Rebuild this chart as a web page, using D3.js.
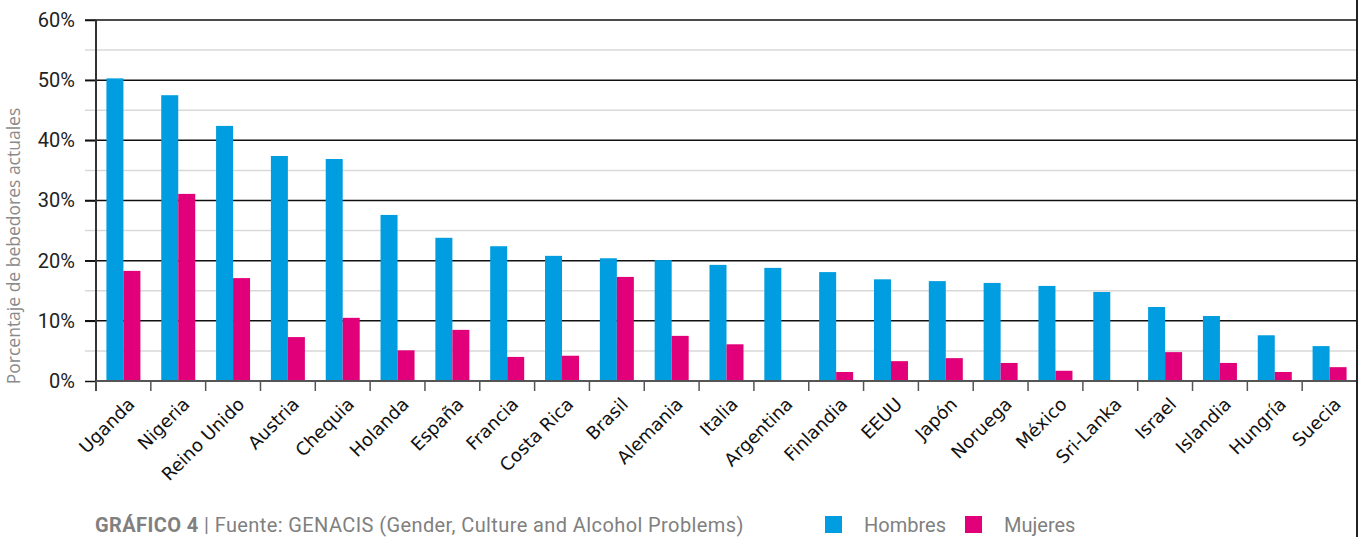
<!DOCTYPE html>
<html>
<head>
<meta charset="utf-8">
<script src="https://cdn.jsdelivr.net/npm/d3@7"></script>
<style>
body{margin:0;background:#fff}
</style>
</head>
<body>
<svg id="chart" width="1363" height="537"></svg>
<script>
var countries = ["Uganda","Nigeria","Reino Unido","Austria","Chequia","Holanda","España","Francia","Costa Rica","Brasil","Alemania","Italia","Argentina","Finlandia","EEUU","Japón","Noruega","México","Sri-Lanka","Israel","Islandia","Hungría","Suecia"]
var hombres = [50.3,47.5,42.4,37.4,36.9,27.6,23.8,22.4,20.8,20.4,20.1,19.3,18.8,18.1,16.9,16.6,16.3,15.8,14.8,12.3,10.8,7.6,5.8]
var mujeres = [18.3,31.1,17.1,7.3,10.5,5.1,8.5,4.0,4.2,17.3,7.5,6.1,0,1.5,3.3,3.8,3.0,1.7,0,4.8,3.0,1.5,2.3]
var majorTicks = [0,10,20,30,40,50,60]
var minorTicks = [5,15,25,35,45,55]
var series = ["Hombres","Mujeres"]
var colors = ["#009ee0","#e2007a"]

var svg = d3.select("#chart")
var mLeft = 96, mRight = 1357, mTop = 20, mBottom = 381

var x = d3.scaleBand().domain(countries).range([mLeft,mRight]).padding(0)
var y = d3.scaleLinear().domain([0,60]).range([mBottom,mTop])
var barW = 17
var x1 = d3.scaleBand().domain(series).range([0,barW*2])
var off = (x.bandwidth()-barW*2)/2

// grid
svg.append("g").selectAll("line").data(minorTicks).enter().append("line")
    .attr("x1",85).attr("x2",mRight)
    .attr("y1",function(d){return y(d)}).attr("y2",function(d){return y(d)})
    .attr("stroke","#d9d9d9").attr("stroke-width",1.5)
svg.append("g").selectAll("line").data(majorTicks.slice(1)).enter().append("line")
    .attr("x1",85).attr("x2",mRight)
    .attr("y1",function(d){return y(d)}).attr("y2",function(d){return y(d)})
    .attr("stroke","#111").attr("stroke-width",1.5)

// bars
var rows = countries.map(function(c,i){return {c:c,v:[hombres[i],mujeres[i]]}})
var g = svg.append("g").selectAll("g").data(rows).enter().append("g")
    .attr("transform",function(d){return "translate("+(x(d.c)+off)+",0)"})
g.selectAll("rect")
    .data(function(d){return d.v.map(function(v,k){return {s:series[k],v:v}}).filter(function(e){return e.v>0})})
    .enter().append("rect")
    .attr("x",function(d){return x1(d.s)})
    .attr("y",function(d){return y(d.v)})
    .attr("width",x1.bandwidth())
    .attr("height",function(d){return mBottom-y(d.v)})
    .attr("fill",function(d){return colors[series.indexOf(d.s)]})

// left axis
var ya = svg.append("g").attr("transform","translate("+mLeft+",0)")
    .call(d3.axisLeft(y).tickValues(majorTicks).tickSize(11).tickPadding(10).tickFormat(function(d){return d+"%"}))
ya.select(".domain").remove()
ya.selectAll("line").attr("stroke","#111").attr("stroke-width",1.5)
ya.selectAll("text").style("font-family","Roboto").style("font-size","20px").attr("fill","#222")
svg.append("line").attr("x1",mLeft).attr("x2",mLeft).attr("y1",mTop).attr("y2",mBottom+10)
    .attr("stroke","#333").attr("stroke-width",2)

// bottom axis
svg.append("line").attr("x1",mLeft).attr("x2",mRight).attr("y1",mBottom).attr("y2",mBottom)
    .attr("stroke","#555").attr("stroke-width",2)
svg.append("g").selectAll("line").data(countries).enter().append("line")
    .attr("x1",function(d){return x(d)}).attr("x2",function(d){return x(d)})
    .attr("y1",mBottom).attr("y2",mBottom+10)
    .attr("stroke","#555").attr("stroke-width",1.5)
var xa = svg.append("g").attr("transform","translate(0,"+mBottom+")")
    .call(d3.axisBottom(x).tickSize(0))
xa.select(".domain").remove()
xa.selectAll("text")
    .style("font-family","DejaVu Sans").style("font-size","18px").attr("fill","#111")
    .attr("text-anchor","end")
    .attr("transform","translate(8,20) rotate(-45)")
    .attr("dy","0.35em").attr("y",0)

// right border
svg.append("line").attr("x1",mRight).attr("x2",mRight).attr("y1",0).attr("y2",537)
    .attr("stroke","#222").attr("stroke-width",2)

// y title
svg.append("text").text("Porcentaje de bebedores actuales")
    .attr("transform","translate(20,246) rotate(-90)")
    .attr("text-anchor","middle")
    .style("font-family","Open Sans").style("font-size","17.5px").attr("fill","#8a8a8a")

// footer
var ft = svg.append("text").attr("x",95).attr("y",532)
    .style("font-family","Roboto").style("font-size","20px").style("letter-spacing","0.4px").attr("fill","#808080")
ft.append("tspan").text("GRÁFICO 4").style("font-weight","bold")
ft.append("tspan").text(" | Fuente: GENACIS (Gender, Culture and Alcohol Problems)")

var lg = svg.append("g").selectAll("g").data(series).enter().append("g")
    .attr("transform",function(d,i){return "translate("+(825+i*140)+",516)"})
lg.append("rect").attr("width",17).attr("height",17).attr("fill",function(d,i){return colors[i]})
lg.append("text").text(function(d){return d}).attr("x",39).attr("y",16)
    .style("font-family","Roboto").style("font-size","20px").attr("fill","#808080")
</script>
</body>
</html>
